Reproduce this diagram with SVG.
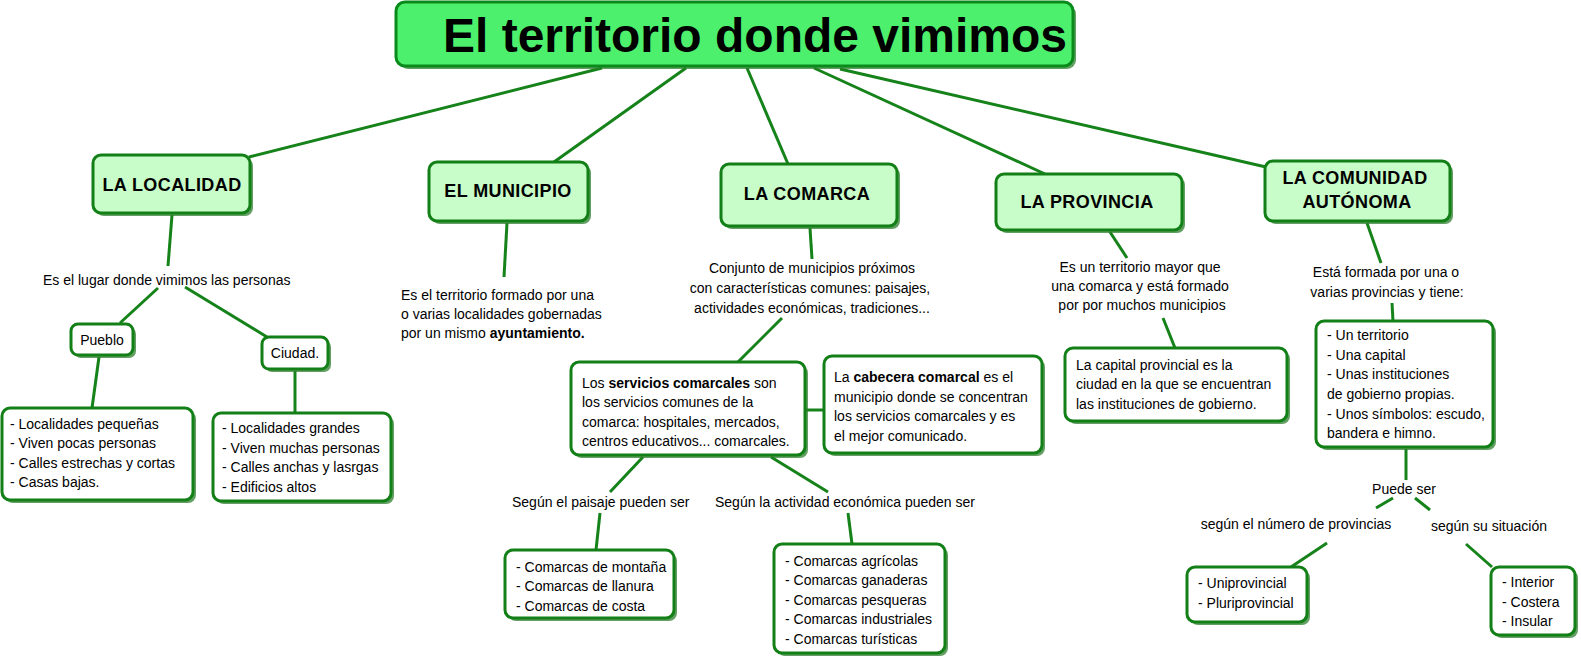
<svg xmlns="http://www.w3.org/2000/svg" width="1581" height="660" viewBox="0 0 1581 660">
<style>
.bg{fill:#ffffff}
.sh{fill:#2f7f2f;opacity:.75}
.title{fill:#4cf06c;stroke:#0b8a1c;stroke-width:3}
.hd{fill:#c8fcc8;stroke:#127f17;stroke-width:3}
.wb{fill:#ffffff;stroke:#127f17;stroke-width:3}
.c line{stroke:#15821a;stroke-width:3;stroke-linecap:butt}
text{font-family:"Liberation Sans",Arial,sans-serif;fill:#000}
.tt{font-size:48px;font-weight:bold;text-anchor:middle}
.h{font-size:18px;font-weight:bold;text-anchor:middle;letter-spacing:0.4px}
.t{font-size:14px}
.m{text-anchor:middle}
.b{font-weight:bold}
</style>
<rect class="bg" x="0" y="0" width="1581" height="660"/>

<g class="c" id="connectors">
<line x1="249" y1="157" x2="602" y2="68"/>
<line x1="554" y1="162" x2="686" y2="68"/>
<line x1="788" y1="164" x2="747" y2="68"/>
<line x1="1045" y1="174" x2="814" y2="68"/>
<line x1="1266" y1="167" x2="840" y2="69"/>
<line x1="172" y1="215" x2="168" y2="266"/>
<line x1="158" y1="288" x2="120" y2="323"/>
<line x1="185" y1="287" x2="267" y2="337"/>
<line x1="99" y1="357" x2="92" y2="408"/>
<line x1="295" y1="371" x2="295" y2="413"/>
<line x1="507" y1="223" x2="504" y2="277"/>
<line x1="810" y1="228" x2="812" y2="259"/>
<line x1="782" y1="318" x2="738" y2="362"/>
<line x1="805" y1="410" x2="824" y2="410"/>
<line x1="643" y1="457" x2="610" y2="492"/>
<line x1="600" y1="513" x2="596" y2="550"/>
<line x1="771" y1="457" x2="828" y2="492"/>
<line x1="848" y1="513" x2="852" y2="544"/>
<line x1="1110" y1="232" x2="1127" y2="258"/>
<line x1="1163" y1="318" x2="1175" y2="348"/>
<line x1="1367" y1="223" x2="1381" y2="263"/>
<line x1="1392" y1="303" x2="1393" y2="321"/>
<line x1="1406" y1="449" x2="1406" y2="480"/>
<line x1="1393" y1="498" x2="1376" y2="508"/>
<line x1="1415" y1="498" x2="1430" y2="510"/>
<line x1="1327" y1="543" x2="1291" y2="567"/>
<line x1="1466" y1="544" x2="1492" y2="567"/>
</g>

<g id="title">
<rect class="sh" x="399" y="5" width="677" height="64" rx="9"/>
<rect class="title" x="396" y="2" width="677" height="64" rx="9"/>
<text class="tt" x="755" y="52">El territorio donde vimimos</text>
</g>

<g id="localidad">
<rect class="sh" x="96" y="158" width="157" height="58" rx="8"/>
<rect class="hd" x="93" y="155" width="157" height="58" rx="8"/>
<text class="h" x="172" y="191">LA LOCALIDAD</text>
</g>
<g id="municipio">
<rect class="sh" x="432" y="165" width="159" height="59" rx="8"/>
<rect class="hd" x="429" y="162" width="159" height="59" rx="8"/>
<text class="h" x="508" y="197">EL MUNICIPIO</text>
</g>
<g id="comarca">
<rect class="sh" x="724" y="167" width="176" height="62" rx="8"/>
<rect class="hd" x="721" y="164" width="176" height="62" rx="8"/>
<text class="h" x="807" y="200">LA COMARCA</text>
</g>
<g id="provincia">
<rect class="sh" x="999" y="177" width="186" height="56" rx="8"/>
<rect class="hd" x="996" y="174" width="186" height="56" rx="8"/>
<text class="h" x="1087" y="208">LA PROVINCIA</text>
</g>
<g id="comunidad">
<rect class="sh" x="1268" y="164" width="185" height="60" rx="8"/>
<rect class="hd" x="1265" y="161" width="185" height="60" rx="8"/>
<text class="h" x="1355" y="184">LA COMUNIDAD</text>
<text class="h" x="1357" y="208">AUTÓNOMA</text>
</g>

<g id="lbl-localidad"><text class="t" x="43" y="285">Es el lugar donde vimimos las personas</text></g>

<g id="pueblo">
<rect class="sh" x="74" y="327" width="62" height="31" rx="7"/>
<rect class="wb" x="71" y="324" width="62" height="31" rx="7"/>
<text class="t m" x="102" y="345">Pueblo</text>
</g>
<g id="ciudad">
<rect class="sh" x="265" y="340" width="66" height="32" rx="7"/>
<rect class="wb" x="262" y="337" width="66" height="32" rx="7"/>
<text class="t m" x="295" y="358">Ciudad.</text>
</g>
<g id="lista-pueblo">
<rect class="sh" x="5" y="411" width="191" height="92" rx="8"/>
<rect class="wb" x="2" y="408" width="191" height="92" rx="8"/>
<text class="t" x="10" y="429">- Localidades pequeñas</text>
<text class="t" x="10" y="448">- Viven pocas personas</text>
<text class="t" x="10" y="468">- Calles estrechas y cortas</text>
<text class="t" x="10" y="487">- Casas bajas.</text>
</g>
<g id="lista-ciudad">
<rect class="sh" x="216" y="416" width="178" height="88" rx="8"/>
<rect class="wb" x="213" y="413" width="178" height="88" rx="8"/>
<text class="t" x="222" y="433">- Localidades grandes</text>
<text class="t" x="222" y="453">- Viven muchas personas</text>
<text class="t" x="222" y="472">- Calles anchas y lasrgas</text>
<text class="t" x="222" y="492">- Edificios altos</text>
</g>

<g id="lbl-municipio">
<text class="t" x="401" y="300">Es el territorio formado por una</text>
<text class="t" x="401" y="319">o varias localidades gobernadas</text>
<text class="t" x="401" y="338">por un mismo <tspan class="b">ayuntamiento.</tspan></text>
</g>

<g id="lbl-comarca">
<text class="t m" x="812" y="273">Conjunto de municipios próximos</text>
<text class="t m" x="810" y="293">con características comunes: paisajes,</text>
<text class="t m" x="812" y="313">actividades económicas, tradiciones...</text>
</g>
<g id="servicios">
<rect class="sh" x="574" y="365" width="234" height="93" rx="8"/>
<rect class="wb" x="571" y="362" width="234" height="93" rx="8"/>
<text class="t" x="582" y="388">Los <tspan class="b">servicios comarcales</tspan> son</text>
<text class="t" x="582" y="407">los servicios comunes de la</text>
<text class="t" x="582" y="427">comarca: hospitales, mercados,</text>
<text class="t" x="582" y="446">centros educativos... comarcales.</text>
</g>
<g id="cabecera">
<rect class="sh" x="827" y="359" width="218" height="97" rx="8"/>
<rect class="wb" x="824" y="356" width="218" height="97" rx="8"/>
<text class="t" x="834" y="382">La <tspan class="b">cabecera comarcal</tspan> es el</text>
<text class="t" x="834" y="402">municipio donde se concentran</text>
<text class="t" x="834" y="421">los servicios comarcales y es</text>
<text class="t" x="834" y="441">el mejor comunicado.</text>
</g>
<g id="lbl-paisaje"><text class="t" x="512" y="507">Según el paisaje pueden ser</text></g>
<g id="lbl-actividad"><text class="t" x="715" y="507">Según la actividad económica pueden ser</text></g>
<g id="lista-paisaje">
<rect class="sh" x="508" y="553" width="169" height="68" rx="8"/>
<rect class="wb" x="505" y="550" width="169" height="68" rx="8"/>
<text class="t" x="516" y="572">- Comarcas de montaña</text>
<text class="t" x="516" y="591">- Comarcas de llanura</text>
<text class="t" x="516" y="611">- Comarcas de costa</text>
</g>
<g id="lista-actividad">
<rect class="sh" x="777" y="547" width="171" height="109" rx="8"/>
<rect class="wb" x="774" y="544" width="171" height="109" rx="8"/>
<text class="t" x="785" y="566">- Comarcas agrícolas</text>
<text class="t" x="785" y="585">- Comarcas ganaderas</text>
<text class="t" x="785" y="605">- Comarcas pesqueras</text>
<text class="t" x="785" y="624">- Comarcas industriales</text>
<text class="t" x="785" y="644">- Comarcas turísticas</text>
</g>

<g id="lbl-provincia">
<text class="t m" x="1140" y="272">Es un territorio mayor que</text>
<text class="t m" x="1140" y="291">una comarca y está formado</text>
<text class="t m" x="1142" y="310">por por muchos municipios</text>
</g>
<g id="capital">
<rect class="sh" x="1068" y="351" width="222" height="73" rx="8"/>
<rect class="wb" x="1065" y="348" width="222" height="73" rx="8"/>
<text class="t" x="1076" y="370">La capital provincial es la</text>
<text class="t" x="1076" y="389">ciudad en la que se encuentran</text>
<text class="t" x="1076" y="409">las instituciones de gobierno.</text>
</g>

<g id="lbl-comunidad">
<text class="t m" x="1386" y="277">Está formada por una o</text>
<text class="t m" x="1387" y="297">varias provincias y tiene:</text>
</g>
<g id="lista-comunidad">
<rect class="sh" x="1319" y="324" width="177" height="126" rx="8"/>
<rect class="wb" x="1316" y="321" width="177" height="126" rx="8"/>
<text class="t" x="1327" y="340">- Un territorio</text>
<text class="t" x="1327" y="360">- Una capital</text>
<text class="t" x="1327" y="379">- Unas instituciones</text>
<text class="t" x="1327" y="399">de gobierno propias.</text>
<text class="t" x="1327" y="419">- Unos símbolos: escudo,</text>
<text class="t" x="1327" y="438">bandera e himno.</text>
</g>
<g id="lbl-puede"><text class="t m" x="1404" y="494">Puede ser</text></g>
<g id="lbl-numero"><text class="t m" x="1296" y="529">según el número de provincias</text></g>
<g id="lbl-situacion"><text class="t m" x="1489" y="531">según su situación</text></g>
<g id="lista-numero">
<rect class="sh" x="1190" y="570" width="120" height="55" rx="8"/>
<rect class="wb" x="1187" y="567" width="120" height="55" rx="8"/>
<text class="t" x="1198" y="588">- Uniprovincial</text>
<text class="t" x="1198" y="608">- Pluriprovincial</text>
</g>
<g id="lista-situacion">
<rect class="sh" x="1494" y="570" width="84" height="68" rx="8"/>
<rect class="wb" x="1491" y="567" width="84" height="68" rx="8"/>
<text class="t" x="1502" y="587">- Interior</text>
<text class="t" x="1502" y="607">- Costera</text>
<text class="t" x="1502" y="626">- Insular</text>
</g>
</svg>
